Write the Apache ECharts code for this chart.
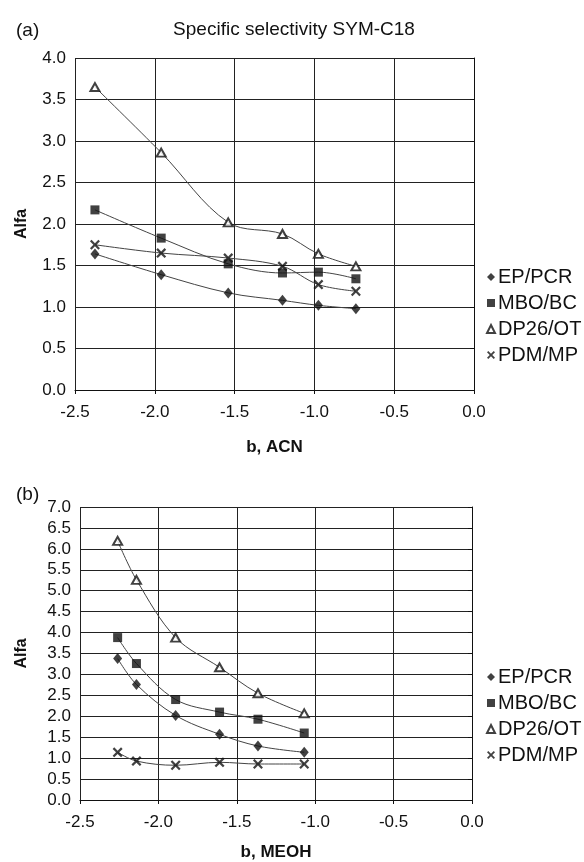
<!DOCTYPE html>
<html>
<head>
<meta charset="utf-8">
<script src="https://cdn.jsdelivr.net/npm/echarts@6/dist/echarts.min.js"></script>
<style>
  body { margin: 0; background: #fff; }
  #chart { width: 584px; height: 862px; }
</style>
</head>
<body>
<div id="chart"></div>
<script>
// (a) b, ACN
const xA = [-2.375, -1.96, -1.54, -1.20, -0.975, -0.74];
const epA = [1.64, 1.39, 1.17, 1.08, 1.02, 0.98];
const mboA = [2.17, 1.83, 1.52, 1.41, 1.42, 1.34];
const dpA = [3.65, 2.86, 2.02, 1.88, 1.64, 1.49];
const pdmA = [1.75, 1.65, 1.59, 1.49, 1.27, 1.19];

// (b) b, MEOH
const xB = [-2.26, -2.14, -1.89, -1.61, -1.365, -1.07];
const epB = [3.38, 2.76, 2.02, 1.57, 1.29, 1.14];
const mboB = [3.88, 3.26, 2.40, 2.10, 1.93, 1.60];
const dpB = [6.19, 5.26, 3.88, 3.17, 2.55, 2.07];
const pdmB = [1.14, 0.93, 0.83, 0.90, 0.86, 0.86];

const names = ['EP/PCR', 'MBO/BC', 'DP26/OT', 'PDM/MP'];

const FONT = 'Liberation Sans, Arial, sans-serif';
const INK = '#111';
const crossPath = 'path://M0,1.6L1.6,0L5,3.4L8.4,0L10,1.6L6.6,5L10,8.4L8.4,10L5,6.6L1.6,10L0,8.4L3.4,5Z';

const marks = [
    { symbol: 'diamond', size: [9, 11], style: { color: INK } },
    { symbol: 'rect', size: 9, style: { color: INK } },
    { symbol: 'triangle', size: [9, 8], style: { color: '#fff', borderColor: INK, borderWidth: 2 } },
    { symbol: crossPath, size: 10, style: { color: INK } }
]

function pairs(xs, ys) {
    return xs.map((x, i) => [x, ys[i]])
}

function seriesFor(idx, xs, groups) {
    let out = []
    groups.forEach((ys, k) => {
        // curve through the points (stands in for the trend line)
        out.push({
            name: names[k] + ' trend',
            type: 'line',
            xAxisIndex: idx, yAxisIndex: idx,
            data: pairs(xs, ys),
            smooth: 0.35,
            showSymbol: false,
            silent: true,
            lineStyle: { color: '#444', width: 1 },
            z: 2
        })
        out.push({
            name: names[k],
            type: 'scatter',
            xAxisIndex: idx, yAxisIndex: idx,
            data: pairs(xs, ys),
            symbol: marks[k].symbol,
            symbolSize: marks[k].size,
            itemStyle: marks[k].style,
            z: 3
        })
    })
    return out
}

const fmt = v => v.toFixed(1)

function xAxisFor(idx, label, gap) {
    return {
        gridIndex: idx, type: 'value', min: -2.5, max: 0, interval: 0.5,
        name: label, nameLocation: 'middle', nameGap: gap,
        nameTextStyle: { fontFamily: FONT, fontSize: 17, fontWeight: 'bold', color: INK },
        axisLine: { onZero: false, lineStyle: { color: INK, width: 1 } },
        axisTick: { show: true, length: 4, lineStyle: { color: INK } },
        axisLabel: { formatter: fmt, fontFamily: FONT, fontSize: 17, color: INK, margin: 14 },
        splitLine: { show: true, lineStyle: { color: '#222', width: 1 } }
    }
}

function yAxisFor(idx, max, gap) {
    return {
        gridIndex: idx, type: 'value', min: 0, max: max, interval: 0.5,
        name: 'Alfa', nameLocation: 'middle', nameRotate: 90, nameGap: gap,
        nameTextStyle: { fontFamily: FONT, fontSize: 16, fontWeight: 'bold', color: INK },
        axisLine: { show: true, lineStyle: { color: INK, width: 1 } },
        axisTick: { show: true, length: 4, lineStyle: { color: INK } },
        axisLabel: { formatter: fmt, fontFamily: FONT, fontSize: 17, color: INK, margin: 9 },
        splitLine: { show: true, lineStyle: { color: '#222', width: 1 } }
    }
}

function legendAt(top) {
    return {
        orient: 'vertical', left: 481, top: top,
        data: names,
        itemWidth: 8, itemHeight: 8, itemGap: 6,
        selectedMode: false,
        textStyle: { fontFamily: FONT, fontSize: 20, color: INK, lineHeight: 20, padding: [0, 0, 0, -2] }
    }
}

let myChart = echarts.init(document.getElementById('chart'), null, { renderer: 'canvas' });
myChart.setOption({
    animation: false,
    backgroundColor: '#fff',
    title: [
        { text: 'Specific selectivity SYM-C18', left: 289, top: 15, textAlign: 'center',
          textStyle: { fontFamily: FONT, fontSize: 19, fontWeight: 'normal', color: INK } },
        { text: '(a)', left: 11, top: 16, textStyle: { fontFamily: FONT, fontSize: 19, fontWeight: 'normal', color: INK } },
        { text: '(b)', left: 11, top: 480, textStyle: { fontFamily: FONT, fontSize: 19, fontWeight: 'normal', color: INK } }
    ],
    legend: [legendAt(262), legendAt(662)],
    grid: [
        { left: 75, top: 58, width: 399, height: 332 },
        { left: 80, top: 507, width: 392, height: 294 }
    ],
    xAxis: [xAxisFor(0, 'b, ACN', 49), xAxisFor(1, 'b, MEOH', 44)],
    yAxis: [yAxisFor(0, 4, 45), yAxisFor(1, 7, 50)],
    series: [].concat(
        seriesFor(0, xA, [epA, mboA, dpA, pdmA]),
        seriesFor(1, xB, [epB, mboB, dpB, pdmB])
    )
})
</script>
</body>
</html>
